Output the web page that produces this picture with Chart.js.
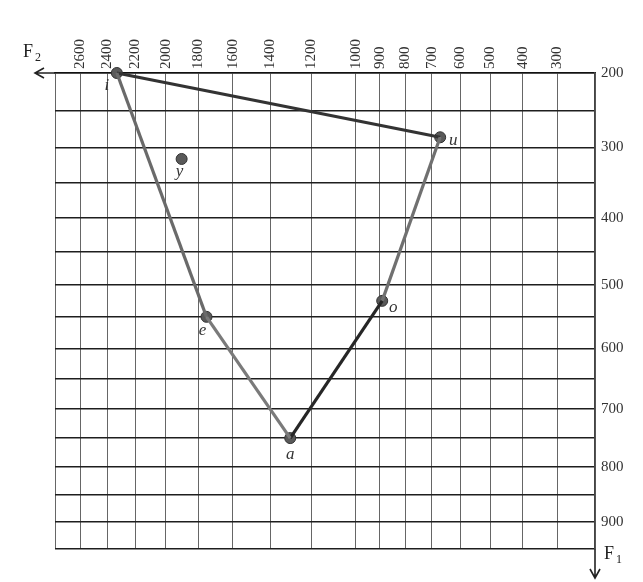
<!DOCTYPE html>
<html>
<head>
<meta charset="utf-8">
<script src="https://cdn.jsdelivr.net/npm/chart.js@4.4.1/dist/chart.umd.min.js"></script>
<style>
  html, body { margin: 0; padding: 0; background: #ffffff; }
  #wrap { width: 643px; height: 582px; position: relative; }
</style>
</head>
<body>
<div id="wrap"><canvas id="c" width="643" height="582"></canvas></div>
<script>
// ---- data ----
const vowels   = ['i', 'u', 'o', 'a', 'e', 'y'];
const vowelF2  = [2330, 670, 890, 1300, 1750, 1900];
const vowelF1  = [200, 286, 525, 750, 550, 316];
const outlineOrder = ['i', 'u', 'o', 'a', 'e', 'i'];

const f2Ticks  = [2800, 2600, 2400, 2200, 2000, 1800, 1600, 1400, 1200, 1000, 900, 800, 700, 600, 500, 400, 300, 200];
const f2Labels = [2600, 2400, 2200, 2000, 1800, 1600, 1400, 1200, 1000, 900, 800, 700, 600, 500, 400, 300];
const f1Ticks  = [200, 250, 300, 350, 400, 450, 500, 550, 600, 650, 700, 750, 800, 850, 900, 950];
const f1Labels = [200, 300, 400, 500, 600, 700, 800, 900];

// ---- custom warped (log(1+f/c)) scale ----
class WarpScale extends Chart.LinearScale {
  _g(v) { return Math.log(1 + v / this.options.warp); }
  getPixelForValue(v) {
    const a = this._g(this.min), b = this._g(this.max);
    return this.getPixelForDecimal((this._g(v) - a) / (b - a));
  }
  getValueForPixel(p) {
    const a = this._g(this.min), b = this._g(this.max);
    const g = a + this.getDecimalForPixel(p) * (b - a);
    return this.options.warp * (Math.exp(g) - 1);
  }
}
WarpScale.id = 'warp';
WarpScale.defaults = {};
Chart.register(WarpScale);

const pt = (name) => { const k = vowels.indexOf(name); return { x: vowelF2[k], y: vowelF1[k] }; };
const outlineData = outlineOrder.map(pt);
const pointData = vowels.map(pt);

const edgeColors  = ['#333333', '#707070', '#262626', '#7a7a7a', '#6a6a6a'];
const innerColors = ['rgba(170,170,170,0.5)', '#d0d0d0', 'rgba(0,0,0,0)', '#d4d4d4', '#cacaca'];

const SERIF = '"Liberation Serif", "DejaVu Serif", serif';

const decor = {
  id: 'decor',
  afterDraw(chart) {
    const ctx = chart.ctx;
    const { left, right, top, bottom } = chart.chartArea;
    ctx.save();
    ctx.strokeStyle = '#222';
    ctx.lineWidth = 1.6;
    // F2 arrow (left along top axis)
    ctx.beginPath();
    ctx.moveTo(left, top); ctx.lineTo(35, top);
    ctx.moveTo(44, top - 5); ctx.lineTo(35, top); ctx.lineTo(44, top + 5);
    ctx.stroke();
    // F1 arrow (down along right axis)
    ctx.beginPath();
    ctx.moveTo(right, bottom); ctx.lineTo(right, 578);
    ctx.moveTo(right - 5, 569); ctx.lineTo(right, 578); ctx.lineTo(right + 5, 569);
    ctx.stroke();
    // axis names
    ctx.fillStyle = '#222';
    ctx.textBaseline = 'alphabetic';
    ctx.textAlign = 'left';
    ctx.font = '18px ' + SERIF;
    ctx.fillText('F', 23, 57);
    ctx.fillText('F', 604, 559);
    ctx.font = '12px ' + SERIF;
    ctx.fillText('2', 35, 61);
    ctx.fillText('1', 616, 563);
    // vowel labels
    const xs = chart.scales.x, ys = chart.scales.y;
    const off = { i: [-10, 13], u: [13, 3], o: [11, 7], a: [0, 16], e: [-4, 14], y: [-2, 13] };
    ctx.font = 'italic 17px ' + SERIF;
    ctx.textAlign = 'center';
    ctx.textBaseline = 'middle';
    ctx.fillStyle = '#333';
    vowels.forEach((v, k) => {
      const px = xs.getPixelForValue(vowelF2[k]);
      const py = ys.getPixelForValue(vowelF1[k]);
      ctx.fillText(v, px + off[v][0], py + off[v][1]);
    });
    ctx.restore();
  }
};

const bgPlugin = {
  id: 'bg',
  beforeDraw(chart) {
    const ctx = chart.ctx;
    ctx.save(); ctx.fillStyle = '#fff'; ctx.fillRect(0, 0, chart.width, chart.height); ctx.restore();
  }
};

new Chart(document.getElementById('c'), {
  type: 'scatter',
  data: {
    datasets: [
      {
        data: outlineData, showLine: true, pointRadius: 0, borderWidth: 3.2, clip: false,
        borderColor: '#444',
        segment: { borderColor: (c) => edgeColors[c.p0DataIndex] }
      },
      {
        data: outlineData, showLine: true, pointRadius: 0, borderWidth: 1, clip: false,
        borderColor: '#ccc',
        segment: { borderColor: (c) => innerColors[c.p0DataIndex] }
      },
      {
        data: pointData, showLine: false, pointRadius: 5.5, pointHoverRadius: 5.5,
        pointBackgroundColor: '#595959', pointBorderColor: '#333', pointBorderWidth: 1, clip: false
      }
    ]
  },
  options: {
    responsive: false,
    animation: false,
    events: [],
    layout: { padding: { left: 55, top: 0, right: 0, bottom: 33 } },
    plugins: { legend: { display: false }, tooltip: { enabled: false } },
    scales: {
      x: {
        type: 'warp', warp: 1000, position: 'top', reverse: true,
        min: 200, max: 2800,
        afterBuildTicks: (s) => { s.ticks = f2Ticks.map(v => ({ value: v })); },
        afterFit: (s) => { s.height = 73; },
        ticks: {
          autoSkip: false, minRotation: 90, maxRotation: 90, padding: 4, labelOffset: 18,
          color: '#333', font: { family: SERIF, size: 15 },
          callback: (v) => f2Labels.includes(v) ? String(v) : ''
        },
        grid: { color: '#666', lineWidth: 1, drawTicks: false },
        border: { display: true, color: '#111', width: 1.6 }
      },
      y: {
        type: 'warp', warp: 1500, position: 'right', reverse: true,
        min: 200, max: 950,
        afterBuildTicks: (s) => { s.ticks = f1Ticks.map(v => ({ value: v })); },
        afterFit: (s) => { s.width = 48; },
        ticks: {
          autoSkip: false, padding: 6,
          color: '#333', font: { family: SERIF, size: 15 },
          callback: (v) => f1Labels.includes(v) ? String(v) : ''
        },
        grid: { color: '#1e1e1e', lineWidth: 1.4, drawTicks: false },
        border: { display: true, color: '#444', width: 1.5 }
      }
    }
  },
  plugins: [bgPlugin, decor]
});
</script>
</body>
</html>
